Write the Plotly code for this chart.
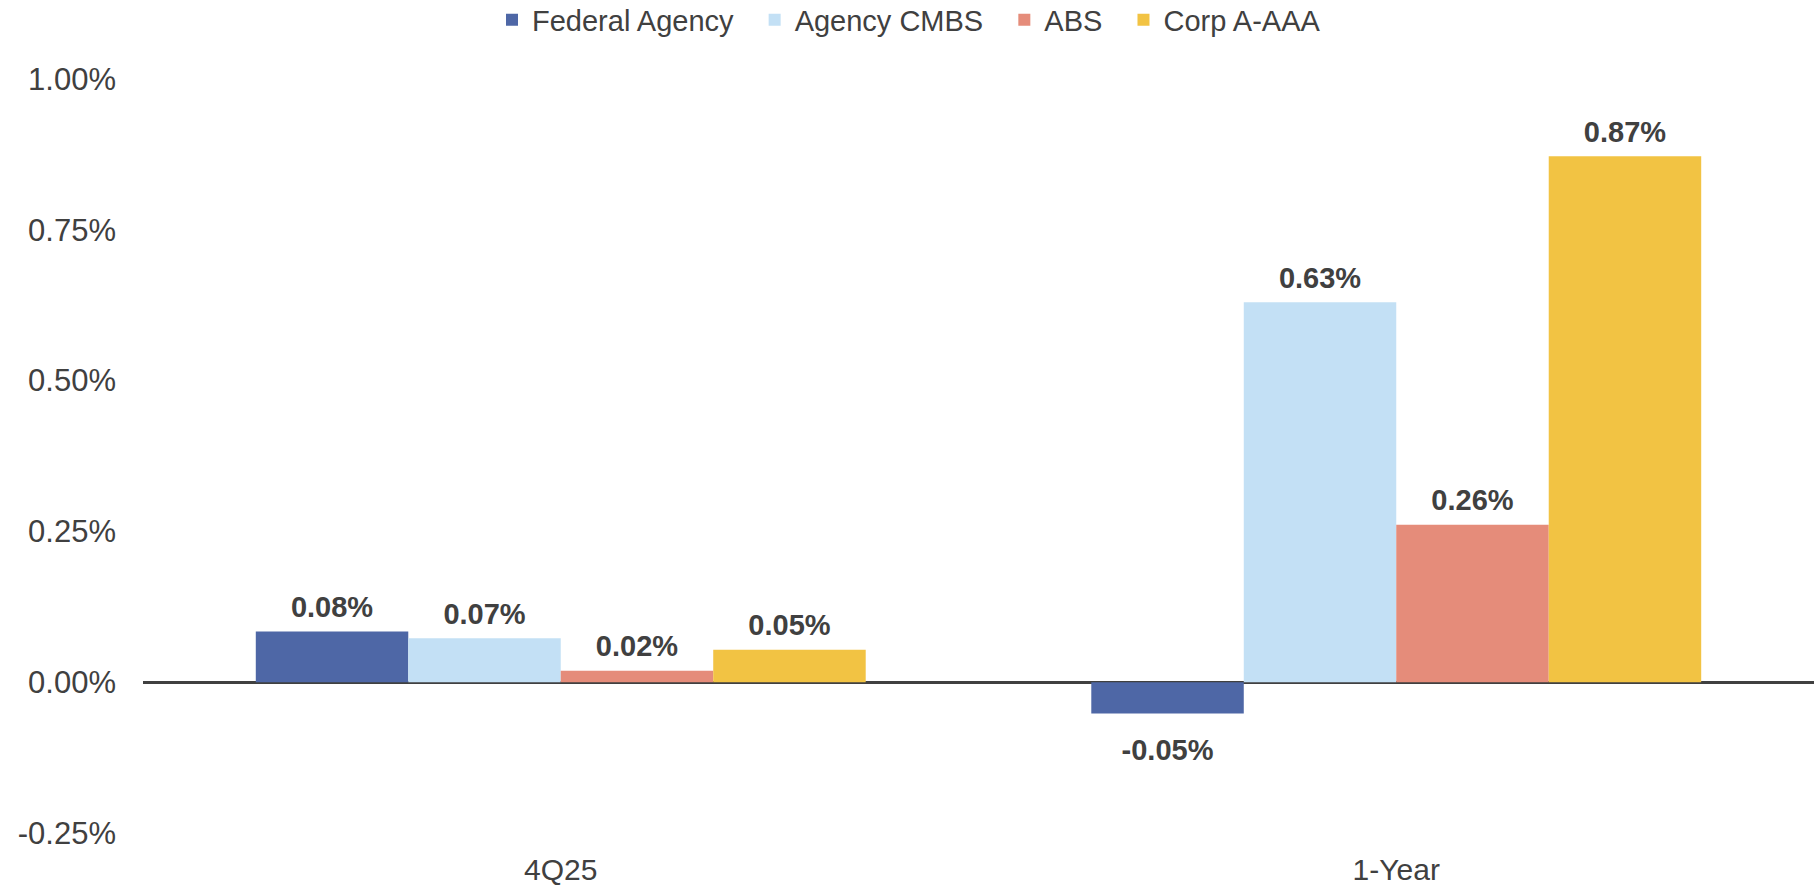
import plotly.graph_objects as go

categories = ["4Q25", "1-Year"]
series_names = ["Federal Agency", "Agency CMBS", "ABS", "Corp A-AAA"]
federal_agency = [0.084, -0.052]
agency_cmbs = [0.073, 0.630]
abs_vals = [0.019, 0.261]
corp_aaa = [0.054, 0.872]
colors = ["#4E67A6", "#C3E0F5", "#E58C7A", "#F2C343"]
y_ticks = [-0.25, 0.0, 0.25, 0.50, 0.75, 1.00]
y_tick_labels = ["-0.25%", "0.00%", "0.25%", "0.50%", "0.75%", "1.00%"]

values = [federal_agency, agency_cmbs, abs_vals, corp_aaa]
FONT = "Arial, Liberation Sans, sans-serif"
NBSP = "\u00a0"

fig = go.Figure()
for i, (name, vals, col) in enumerate(zip(series_names, values, colors)):
    legend_label = name + (NBSP * 2 if i < len(series_names) - 1 else "")
    fig.add_trace(go.Bar(
        x=categories, y=vals, name=legend_label,
        offsetgroup=name, alignmentgroup="g",
        marker=dict(color=col, line=dict(width=0)),
    ))
for name, vals in zip(series_names, values):
    fig.add_trace(go.Scatter(
        x=categories, y=vals, mode="markers+text",
        offsetgroup=name, alignmentgroup="g",
        marker=dict(size=[10 if v >= 0 else 38 for v in vals], opacity=0),
        text=[f"{v:.2f}%" for v in vals],
        textposition=["top center" if v >= 0 else "bottom center" for v in vals],
        textfont=dict(family=FONT, size=29, color="#404040", weight="bold"),
        cliponaxis=False, showlegend=False, hoverinfo="skip",
    ))

fig.update_layout(
    width=1818, height=890,
    barmode="group", bargap=0.27, bargroupgap=0,
    scattermode="group", scattergap=0.27,
    plot_bgcolor="white", paper_bgcolor="white",
    margin=dict(l=143, r=4, t=79, b=55),
    font=dict(family=FONT, color="#404040"),
    legend=dict(
        orientation="h", xref="container", yref="container",
        x=0.5, xanchor="center", y=1 - 20 / 890, yanchor="middle",
        font=dict(family=FONT, size=29, color="#404040"),
        itemwidth=30,
    ),
    showlegend=True,
)
fig.update_yaxes(
    range=[-0.25, 1.0], tickvals=y_ticks, ticktext=y_tick_labels,
    showgrid=False, zeroline=True, zerolinecolor="#404040", zerolinewidth=3,
    showline=False, ticks="", ticklabelstandoff=26,
    tickfont=dict(family=FONT, size=31, color="#404040"),
)
fig.update_xaxes(
    showgrid=False, showline=False, ticks="", ticklabelstandoff=16,
    tickfont=dict(family=FONT, size=30, color="#404040"),
)

fig.write_html("out.html", config={"displayModeBar": False},
               post_script="document.body.style.margin='0';")
